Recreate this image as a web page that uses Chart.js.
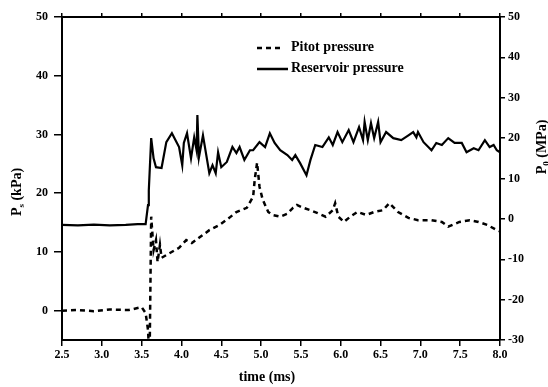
<!DOCTYPE html>
<html>
<head>
<meta charset="utf-8">
<script src="https://cdn.jsdelivr.net/npm/chart.js@4"></script>
<style>
  html, body { margin: 0; padding: 0; background: #fff; }
  #wrap { width: 548px; height: 387px; }
</style>
</head>
<body>
<div id="wrap"><canvas id="grafico"></canvas></div>
<script>
// reservoir pressure (MPa, right axis)
const reservoirTime = [2.5, 2.7, 2.9, 3.1, 3.3, 3.45, 3.55, 3.58, 3.59, 3.62, 3.65, 3.68, 3.75, 3.81, 3.88, 3.97, 4.01, 4.03, 4.07, 4.12, 4.16, 4.19, 4.20, 4.22, 4.27, 4.35, 4.39, 4.43, 4.46, 4.50, 4.57, 4.64, 4.69, 4.73, 4.79, 4.86, 4.90, 4.98, 5.05, 5.11, 5.17, 5.24, 5.33, 5.39, 5.43, 5.49, 5.57, 5.62, 5.68, 5.77, 5.85, 5.90, 5.96, 6.02, 6.10, 6.16, 6.23, 6.28, 6.30, 6.34, 6.38, 6.42, 6.47, 6.50, 6.57, 6.66, 6.76, 6.85, 6.91, 6.95, 6.97, 7.04, 7.14, 7.20, 7.27, 7.35, 7.43, 7.52, 7.58, 7.67, 7.73, 7.81, 7.87, 7.92, 7.96, 8.0];
const reservoirValues = [-1.5, -1.6, -1.4, -1.6, -1.5, -1.3, -1.3, 3.4, 7.1, 20.0, 15.0, 12.8, 12.6, 19.0, 21.2, 17.8, 13.3, 18.8, 21.2, 15.0, 20.2, 17.0, 25.7, 15.3, 20.7, 11.3, 13.3, 11.3, 16.5, 12.8, 14.1, 17.8, 16.3, 17.8, 14.6, 17.0, 17.0, 19.0, 17.8, 21.2, 18.8, 17.0, 15.8, 14.6, 15.8, 13.8, 10.8, 14.6, 18.3, 17.8, 20.2, 18.3, 21.5, 19.0, 22.0, 19.0, 22.7, 19.5, 24.0, 19.5, 23.7, 20.0, 24.0, 19.0, 21.5, 20.0, 19.5, 20.7, 21.5, 20.2, 21.5, 19.0, 17.0, 18.8, 18.3, 20.0, 18.8, 18.8, 16.5, 17.5, 17.0, 19.5, 17.8, 18.3, 17.0, 16.5];

// pitot pressure (kPa, left axis)
const pitotTime = [2.5, 2.7, 2.9, 3.1, 3.34, 3.5, 3.55, 3.58, 3.59, 3.60, 3.62, 3.65, 3.68, 3.70, 3.73, 3.75, 3.84, 3.97, 4.06, 4.13, 4.22, 4.35, 4.48, 4.60, 4.69, 4.82, 4.90, 4.92, 4.95, 4.98, 5.02, 5.09, 5.14, 5.24, 5.33, 5.40, 5.45, 5.53, 5.62, 5.71, 5.81, 5.90, 5.93, 5.97, 6.04, 6.12, 6.21, 6.32, 6.42, 6.53, 6.61, 6.72, 6.85, 6.97, 7.14, 7.27, 7.35, 7.49, 7.62, 7.73, 7.84, 7.96, 8.0];
const pitotValues = [0.0, 0.1, -0.1, 0.2, 0.1, 0.6, -0.4, -3.3, -5.9, -8.0, 16.0, 10.3, 12.0, 8.3, 11.2, 9.0, 9.7, 10.7, 12.0, 11.5, 12.4, 13.7, 14.6, 15.8, 16.8, 17.5, 19.4, 22.3, 25.2, 21.1, 18.9, 16.8, 16.3, 16.0, 16.5, 17.5, 18.0, 17.5, 17.1, 16.6, 16.0, 17.1, 18.3, 16.0, 15.1, 16.0, 16.8, 16.3, 16.8, 17.1, 18.3, 16.8, 15.8, 15.4, 15.4, 15.1, 14.3, 15.1, 15.4, 15.1, 14.6, 13.7, 13.5];

const xTicks = [2.5, 3.0, 3.5, 4.0, 4.5, 5.0, 5.5, 6.0, 6.5, 7.0, 7.5, 8.0];
const leftTicks = [0, 10, 20, 30, 40, 50];
const rightTicks = [-30, -20, -10, 0, 10, 20, 30, 40, 50];

const FONT = '"Liberation Serif", "DejaVu Serif", serif';

function toPoints(xs, ys) {
    return xs.map((x, i) => ({ x: x, y: ys[i] }));
}

function fixTicks(values) {
    return scale => { scale.ticks = values.map(v => ({ value: v })); };
}

// legend + axis titles drawn by hand to match the original placement
const extras = {
    id: 'extras',
    afterDraw(chart) {
        const ctx = chart.ctx;
        ctx.save();
        ctx.fillStyle = '#000';
        ctx.strokeStyle = '#000';

        // legend
        ctx.lineWidth = 2.5;
        ctx.setLineDash([5, 4]);
        ctx.beginPath(); ctx.moveTo(257, 48); ctx.lineTo(284, 48); ctx.stroke();
        ctx.setLineDash([]);
        ctx.beginPath(); ctx.moveTo(257, 69); ctx.lineTo(288, 69); ctx.stroke();
        ctx.font = 'bold 14px ' + FONT;
        ctx.textBaseline = 'middle';
        ctx.textAlign = 'left';
        ctx.fillText('Pitot pressure', 291, 47);
        ctx.fillText('Reservoir pressure', 291, 68);

        // x title
        ctx.font = 'bold 14px ' + FONT;
        ctx.textAlign = 'center';
        ctx.fillText('time (ms)', 267, 377);

        // y titles (both read bottom to top)
        drawRotated(ctx, 'P', 's', ' (kPa)', 16, 192);
        drawRotated(ctx, 'P', '0', ' (MPa)', 541, 147);
        ctx.restore();
    }
};

function drawRotated(ctx, main, sub, rest, cx, cy) {
    ctx.save();
    ctx.translate(cx, cy);
    ctx.rotate(-Math.PI / 2);
    ctx.textBaseline = 'alphabetic';
    ctx.textAlign = 'left';
    const big = 'bold 14px ' + FONT;
    const small = 'bold 9px ' + FONT;
    ctx.font = big;
    const w1 = ctx.measureText(main).width;
    const w3 = ctx.measureText(rest).width;
    ctx.font = small;
    const w2 = ctx.measureText(sub).width;
    let x = -(w1 + w2 + w3) / 2;
    ctx.font = big;
    ctx.fillText(main, x, 5);
    x += w1;
    ctx.font = small;
    ctx.fillText(sub, x, 8);
    x += w2;
    ctx.font = big;
    ctx.fillText(rest, x, 5);
    ctx.restore();
}

const tickFont = { family: FONT, size: 12, weight: 'bold' };

new Chart(document.getElementById('grafico'), {
    type: 'line',
    data: {
        datasets: [
            {
                label: 'Pitot pressure',
                data: toPoints(pitotTime, pitotValues),
                yAxisID: 'y',
                borderColor: '#000',
                borderWidth: 2.5,
                borderDash: [5, 4],
                pointRadius: 0,
                tension: 0
            },
            {
                label: 'Reservoir pressure',
                data: toPoints(reservoirTime, reservoirValues),
                yAxisID: 'y1',
                borderColor: '#000',
                borderWidth: 2.2,
                pointRadius: 0,
                tension: 0
            }
        ]
    },
    options: {
        responsive: true,
        maintainAspectRatio: false,
        animation: false,
        layout: { padding: 0 },
        plugins: {
            legend: { display: false },
            tooltip: { enabled: false }
        },
        scales: {
            x: {
                type: 'linear',
                position: 'bottom',
                min: 2.5,
                max: 8.0,
                afterBuildTicks: fixTicks(xTicks),
                afterFit: s => { s.height = 47; },
                ticks: {
                    color: '#000',
                    font: tickFont,
                    padding: 2,
                    maxRotation: 0,
                    callback: v => v.toFixed(1)
                },
                grid: { drawOnChartArea: false, color: '#000', tickLength: 6, lineWidth: 1.5 },
                border: { color: '#000', width: 2 }
            },
            xTop: {
                type: 'linear',
                position: 'top',
                min: 2.5,
                max: 8.0,
                afterBuildTicks: fixTicks(xTicks),
                afterFit: s => { s.height = 17; },
                ticks: { display: false },
                grid: { drawOnChartArea: false, color: '#000', tickLength: 4, lineWidth: 1.5 },
                border: { color: '#000', width: 2 }
            },
            y: {
                position: 'left',
                min: -5,
                max: 50,
                afterBuildTicks: fixTicks(leftTicks),
                afterFit: s => { s.width = 62; },
                ticks: { color: '#000', font: tickFont, padding: 6 },
                grid: { drawOnChartArea: false, color: '#000', tickLength: 8, lineWidth: 1.5 },
                border: { color: '#000', width: 2 }
            },
            y1: {
                position: 'right',
                min: -30,
                max: 50,
                afterBuildTicks: fixTicks(rightTicks),
                afterFit: s => { s.width = 48; },
                ticks: { color: '#000', font: tickFont, padding: 3 },
                grid: { drawOnChartArea: false, color: '#000', tickLength: 5, lineWidth: 1.5 },
                border: { color: '#000', width: 2 }
            }
        }
    },
    plugins: [extras]
});
</script>
</body>
</html>
